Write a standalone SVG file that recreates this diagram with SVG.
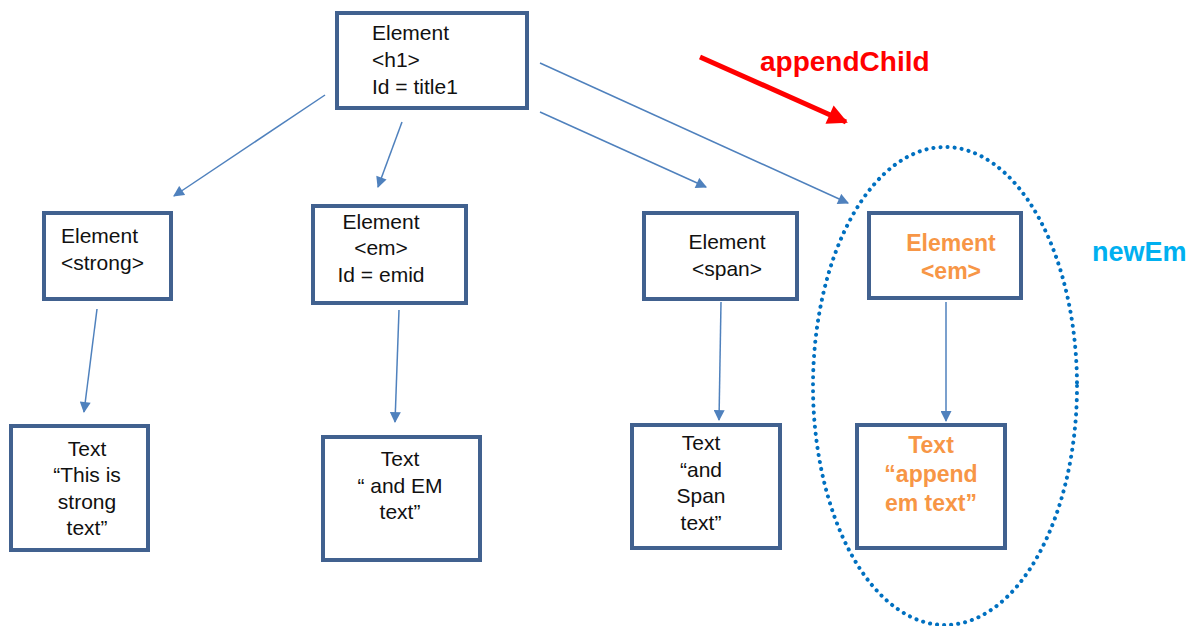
<svg xmlns="http://www.w3.org/2000/svg" width="1203" height="626" viewBox="0 0 1203 626">
  <style>
    .box { fill: #ffffff; stroke: #41618f; stroke-width: 4; }
    .lbl { font-family: "Liberation Sans", Arial, sans-serif; font-size: 21px; fill: #111111; }
    .mid { text-anchor: middle; }
    .new { font-family: "Liberation Sans", Arial, sans-serif; font-size: 23px; font-weight: bold; fill: #f79646; text-anchor: middle; }
    .conn { stroke: #4f81bd; stroke-width: 1.5; fill: none; marker-end: url(#arr); }
  </style>
  <defs>
    <marker id="arr" viewBox="0 0 10 10" refX="9" refY="5" markerWidth="12" markerHeight="11" markerUnits="userSpaceOnUse" orient="auto">
      <path d="M0,0 L10,5 L0,10 z" fill="#4f81bd"/>
    </marker>
    <marker id="redArr" viewBox="0 0 10 10" refX="9" refY="5" markerWidth="5" markerHeight="4" orient="auto">
      <path d="M0,0 L10,5 L0,10 z" fill="#ff0000"/>
    </marker>
  </defs>

  <rect width="1203" height="626" fill="#ffffff"/>

  <!-- dotted outline around the new subtree -->
  <ellipse cx="945" cy="386" rx="132" ry="239" fill="none" stroke="#0070c0" stroke-width="4" stroke-dasharray="0.1 7" stroke-linecap="round"/>

  <g id="connectors">
    <line class="conn" x1="325" y1="95" x2="174" y2="196"/>
    <line class="conn" x1="402" y1="122" x2="378" y2="187"/>
    <line class="conn" x1="540" y1="112" x2="706" y2="187"/>
    <line class="conn" x1="540" y1="63" x2="848" y2="203"/>
    <line class="conn" x1="97" y1="309" x2="84" y2="412"/>
    <line class="conn" x1="399" y1="310" x2="395" y2="422"/>
    <line class="conn" x1="721" y1="302" x2="719" y2="420"/>
    <line class="conn" x1="946" y1="302" x2="946" y2="421"/>
  </g>

  <g id="append-child">
    <line x1="700" y1="57" x2="846" y2="122" stroke="#ff0000" stroke-width="5" marker-end="url(#redArr)"/>
    <text x="760" y="71" font-family="Liberation Sans, Arial, sans-serif" font-size="28" font-weight="bold" fill="#ff0000">appendChild</text>
  </g>

  <g id="h1">
    <rect class="box" x="337" y="13" width="190" height="95"/>
    <text class="lbl" x="372" y="40">Element</text>
    <text class="lbl" x="372" y="67">&lt;h1&gt;</text>
    <text class="lbl" x="372" y="94">Id  = title1</text>
  </g>

  <g id="strong">
    <rect class="box" x="44" y="213" width="127" height="86"/>
    <text class="lbl" x="61" y="243">Element</text>
    <text class="lbl" x="61" y="270">&lt;strong&gt;</text>
  </g>

  <g id="em">
    <rect class="box" x="313" y="206" width="153" height="97"/>
    <text class="lbl mid" x="381" y="229">Element</text>
    <text class="lbl mid" x="381" y="255">&lt;em&gt;</text>
    <text class="lbl mid" x="381" y="282">Id  = emid</text>
  </g>

  <g id="span">
    <rect class="box" x="644" y="213" width="153" height="86"/>
    <text class="lbl mid" x="727" y="249">Element</text>
    <text class="lbl mid" x="727" y="276">&lt;span&gt;</text>
  </g>

  <g id="new-em">
    <rect class="box" x="869" y="213" width="152" height="85"/>
    <text class="new" x="951" y="251">Element</text>
    <text class="new" x="951" y="279">&lt;em&gt;</text>
  </g>

  <g id="strong-text">
    <rect class="box" x="11" y="426" width="137" height="124"/>
    <text class="lbl mid" x="87" y="456">Text</text>
    <text class="lbl mid" x="87" y="482">“This is</text>
    <text class="lbl mid" x="87" y="509">strong</text>
    <text class="lbl mid" x="87" y="535">text”</text>
  </g>

  <g id="em-text">
    <rect class="box" x="323" y="437" width="157" height="123"/>
    <text class="lbl mid" x="400" y="466">Text</text>
    <text class="lbl mid" x="400" y="493">“ and EM</text>
    <text class="lbl mid" x="400" y="519">text”</text>
  </g>

  <g id="span-text">
    <rect class="box" x="632" y="425" width="148" height="123"/>
    <text class="lbl mid" x="701" y="450">Text</text>
    <text class="lbl mid" x="701" y="477">“and</text>
    <text class="lbl mid" x="701" y="503">Span</text>
    <text class="lbl mid" x="701" y="530">text”</text>
  </g>

  <g id="new-em-text">
    <rect class="box" x="857" y="425" width="148" height="123"/>
    <text class="new" x="931" y="453">Text</text>
    <text class="new" x="931" y="482">“append</text>
    <text class="new" x="931" y="511">em text”</text>
  </g>

  <text id="new-em-label" x="1092" y="261" font-family="Liberation Sans, Arial, sans-serif" font-size="27" font-weight="bold" fill="#00b0f0">newEm</text>
</svg>
